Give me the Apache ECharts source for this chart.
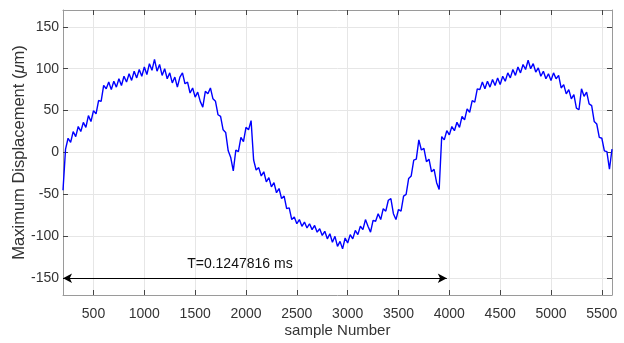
<!DOCTYPE html>
<html>
<head>
<meta charset="utf-8">
<script src="https://cdn.jsdelivr.net/npm/echarts@6/dist/echarts.min.js"></script>
<style>
  html, body { margin: 0; padding: 0; background: #fff; }
  #chart { width: 624px; height: 343px; }
</style>
</head>
<body>
<div id="chart"></div>
<script>
// sample numbers run 200..5600, one reading every 25 samples
const sampleStart = 200
const sampleStep = 25

// maximum displacement (µm), 8 readings per 200 samples
const displacement = [
  -45, 4, 17, 12, 25, 19, 31, 25,
  36, 30, 44, 37, 50, 46, 62, 61,
  80, 76, 84, 75, 85, 78, 88, 80,
  91, 84, 94, 86, 97, 89, 99, 91,
  102, 93, 106, 98, 111, 97, 105, 92,
  100, 88, 95, 83, 90, 78, 90, 95,
  82, 84, 71, 77, 66, 72, 61, 54,
  73, 70, 77, 64, 61, 45, 43, 27,
  24, 2, -6, -22, 3, 1, 18, 13,
  30, 27, 38, -9, -21, -18, -28, -23,
  -35, -30, -41, -36, -48, -43, -55, -52,
  -67, -66, -80, -77, -85, -80, -88, -83,
  -90, -85, -92, -87, -95, -91, -99, -94,
  -103, -97, -107, -100, -112, -106, -115, -102,
  -108, -98, -103, -93, -98, -88, -92, -80,
  -88, -95, -81, -82, -73, -80, -67, -70,
  -57, -55, -73, -80, -68, -70, -52, -50,
  -31, -28, -9, -8, 15, 3, 5, -11,
  -8, -23, -20, -36, -44, 19, 15, 26,
  21, 31, 26, 36, 30, 43, 39, 52,
  48, 62, 60, 76, 75, 84, 76, 85,
  78, 87, 80, 89, 81, 91, 85, 95,
  89, 99, 92, 102, 95, 105, 99, 110,
  100, 106, 96, 101, 91, 97, 88, 94,
  86, 95, 88, 92, 77, 81, 70, 75,
  64, 69, 53, 51, 76, 67, 72, 58,
  56, 37, 34, 18, 17, 2, 1, -20,
  4
]

const xTicks = [500, 1000, 1500, 2000, 2500, 3000, 3500, 4000, 4500, 5000, 5500]
const yTicks = [-150, -100, -50, 0, 50, 100, 150]

// period arrow and its label
const periodArrow = [200, 3975, -150]
const periodText = 'T=0.1247816 ms'
const periodTextAt = [1940, -133]

const chart = echarts.init(document.getElementById('chart'))

const points = displacement.map((v, i) => [sampleStart + i * sampleStep, v])

const textColor = '#333'
const frameColor = '#9a9a9a'
const font = 'Liberation Sans, Arial, sans-serif'

const baseX = {
    type: 'value',
    min: 200,
    max: 5600,
    axisLine: { show: true, onZero: false, lineStyle: { color: frameColor } },
    axisTick: { show: true, inside: true, length: 5, customValues: xTicks, lineStyle: { color: '#444' } },
}
const baseY = {
    type: 'value',
    min: -170,
    max: 170,
    axisLine: { show: true, onZero: false, lineStyle: { color: frameColor } },
    axisTick: { show: true, inside: true, length: 5, customValues: yTicks, lineStyle: { color: '#444' } },
}

chart.setOption({
    animation: false,
    backgroundColor: '#fff',
    grid: { left: 63, right: 12, top: 10, bottom: 48, outerBoundsMode: 'none', containLabel: false },
    xAxis: [{
        ...baseX,
        position: 'bottom',
        name: 'sample Number',
        nameLocation: 'middle',
        nameGap: 28,
        nameMoveOverlap: false,
        nameTextStyle: { color: textColor, fontSize: 15, fontFamily: font },
        axisLabel: {
            color: textColor, fontSize: 14, fontFamily: font, margin: 12,
            customValues: xTicks, formatter: v => String(v),
        },
        splitLine: { show: true, lineStyle: { color: '#e6e6e6' } },
    }, {
        ...baseX,
        position: 'top',
        axisLabel: { show: false },
        splitLine: { show: false },
    }],
    yAxis: [{
        ...baseY,
        position: 'left',
        name: 'Maximum Displacement ({i|μ}m)',
        nameLocation: 'middle',
        nameGap: 35,
        nameMoveOverlap: false,
        nameTextStyle: {
            color: textColor, fontSize: 16.5, fontFamily: font,
            rich: { i: { fontStyle: 'italic', fontSize: 16.5, color: textColor, fontFamily: font } },
        },
        axisLabel: {
            color: textColor, fontSize: 14, fontFamily: font, margin: 4,
            customValues: yTicks, formatter: v => String(v),
        },
        splitLine: { show: true, lineStyle: { color: '#e6e6e6' } },
    }, {
        ...baseY,
        position: 'right',
        axisLabel: { show: false },
        splitLine: { show: false },
    }],
    series: [{
        type: 'line',
        data: points,
        showSymbol: false,
        symbol: 'none',
        lineStyle: { color: '#0000ff', width: 1.4 },
        markLine: {
            silent: true,
            symbol: ['arrow', 'arrow'],
            symbolSize: [7, 9],
            label: { show: false },
            lineStyle: { color: '#000', width: 1.2, type: 'solid' },
            data: [[
                { coord: [periodArrow[0], periodArrow[2]] },
                { coord: [periodArrow[1], periodArrow[2]] },
            ]],
        },
        markPoint: {
            silent: true,
            symbol: 'circle',
            symbolSize: 0,
            label: {
                show: true,
                position: 'inside',
                formatter: periodText,
                color: '#111',
                fontSize: 14,
                fontFamily: font,
            },
            data: [{ coord: periodTextAt }],
        },
    }],
})
</script>
</body>
</html>
